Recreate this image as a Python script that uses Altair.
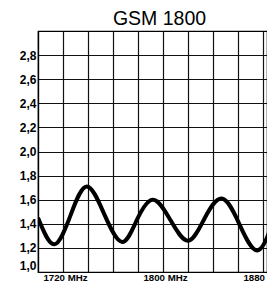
import altair as alt
import pandas as pd

freq = [1700, 1713, 1726, 1739, 1753, 1767, 1779, 1792, 1806, 1820, 1833, 1847, 1861, 1876, 1890]
vswr = [1.45, 1.23, 1.47, 1.71, 1.48, 1.25, 1.43, 1.60, 1.43, 1.26, 1.44, 1.61, 1.40, 1.18, 1.49]
x_grid = [1700, 1720, 1740, 1760, 1780, 1800, 1820, 1840, 1860, 1880]
x_labels = [1720, 1800, 1880]
y_ticks = [1.0, 1.2, 1.4, 1.6, 1.8, 2.0, 2.2, 2.4, 2.6, 2.8]

df = pd.DataFrame({"f": freq, "v": vswr})

lab_test = " || ".join(f"datum.value == {v}" for v in x_labels)

chart = alt.Chart(df).mark_line(
    color="black", strokeWidth=4, interpolate="natural", clip=True
).encode(
    x=alt.X("f:Q", scale=alt.Scale(domain=[1700, 1883.2], nice=False, zero=False),
            axis=alt.Axis(values=x_grid, title=None, grid=True, ticks=False,
                          labelExpr=f"({lab_test}) ? datum.value + ' MHz' : ''",
                          labelFont="Liberation Sans", labelFontWeight="bold",
                          labelFontSize=9.7, labelColor="#000", labelPadding=0,
                          labelOffset=2, labelBaseline="top",
                          domainColor="#000", domainWidth=1.2,
                          gridColor="#111", gridWidth=1.2, gridOpacity=1,
                          labelOverlap=False, labelFlush=False, labelBound=False)),
    y=alt.Y("v:Q", scale=alt.Scale(domain=[1.0, 3.0], nice=False, zero=False),
            axis=alt.Axis(values=y_ticks, title=None, grid=True, ticks=False,
                          labelExpr="replace(format(datum.value, '.1f'), '.', ',')",
                          labelFont="Liberation Sans", labelFontWeight="bold",
                          labelFontSize=12, labelColor="#000", labelPadding=2,
                          labelFlush=True,
                          domainColor="#000", domainWidth=1.2,
                          gridColor="#111", gridWidth=1.2, gridOpacity=1,
                          labelOverlap=False)),
).properties(
    width=229, height=241,
    title=alt.TitleParams("GSM 1800", font="Liberation Sans", fontSize=19.5,
                          fontWeight="normal", color="#000", offset=2, anchor="middle", dx=7),
    autosize=alt.AutoSizeParams(type="none"),
    padding={"left": 30, "top": 23, "right": 0, "bottom": 9},
).configure_view(stroke="#000", strokeWidth=1.2)

chart.save("out.html", embed_options={"renderer": "svg", "actions": False})
